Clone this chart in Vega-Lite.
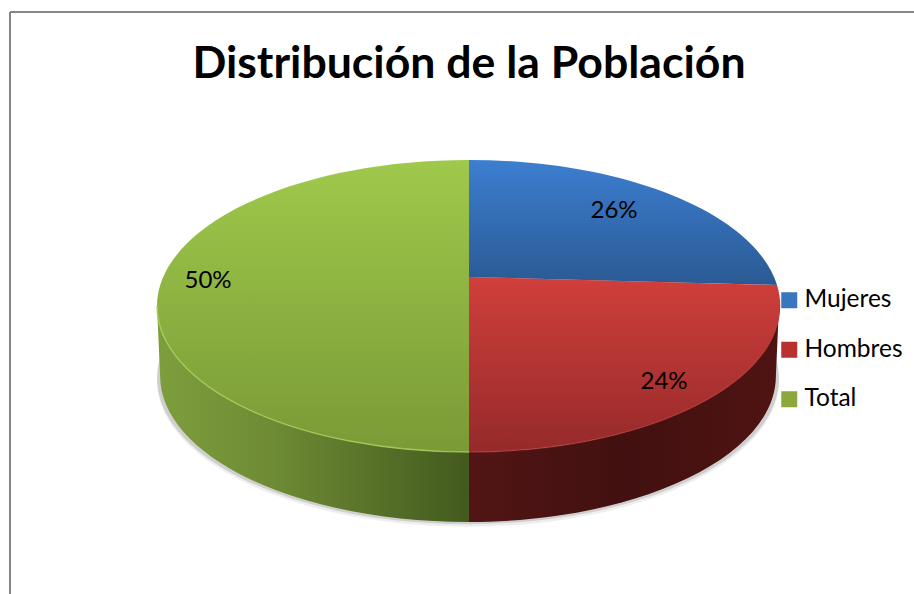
{
"$schema":"https://vega.github.io/schema/vega-lite/v6.json",
"width":904,"height":582,"autosize":"none",
"padding":{"left":10,"top":12,"right":0,"bottom":0},
"background":"white",
"config":{"view":{"stroke":null}},
"title":{"text":"Distribución de la Población","font":"Lato","fontSize":44.6,"fontWeight":"bold","color":"black","anchor":"middle","baseline":"alphabetic","offset":0,"dx":7,"dy":112},
"data":{"values":[{"part":"Mujeres","share":0.26},{"part":"Hombres","share":0.24},{"part":"Total","share":0.5}]},
"layer":[
{"mark":{"type":"rule","color":"#868686","strokeWidth":2},"encoding":{"x":{"datum":10,"type":"quantitative","scale":{"domain":[10,914]},"axis":null}}},
{"mark":{"type":"rule","color":"#868686","strokeWidth":2},"encoding":{"x":{"datum":10,"type":"quantitative","scale":{"domain":[10,914]},"axis":null},"x2":{"datum":914},"y":{"datum":12,"type":"quantitative","scale":{"domain":[12,594],"reverse":true},"axis":null}}},
{"encoding":{"x":{"datum":468,"type":"quantitative","scale":{"domain":[10,914]},"axis":null},"y":{"datum":306,"type":"quantitative","scale":{"domain":[12,594],"reverse":true},"axis":null}},
"layer":[
{"mark":{"type":"point","filled":true,"opacity":1,"size":100,"shape":"square"},
 "encoding":{"fill":{"field":"part","type":"nominal","sort":["Mujeres","Hombres","Total"],
   "scale":{"domain":["Mujeres","Hombres","Total"],"range":["#3a76bd","#b8312f","#8aa83e"]},
   "legend":{"title":null,"orient":"none","legendX":767,"legendY":276,"symbolType":"square","symbolSize":256,"labelFont":"Lato","labelFontSize":24.5,"labelColor":"black","labelLimit":200,"rowPadding":24.5,"labelOffset":3,"symbolStrokeWidth":0}}}},
{"transform":[{"filter":"datum.part==='Total'"}],"mark":{"type":"point","filled":true,"fill":"#777777","opacity":0.12,"size":386884,"shape":"M-1 0.24 A1 0.4695 0 0 1 1 0.24 A1 0.4695 0 0 1 -1 0.24 Z"}},
{"transform":[{"filter":"datum.part==='Total'"}],"mark":{"type":"point","filled":true,"fill":"#555555","opacity":0.2,"size":386884,"shape":"M-1 0.232 A1 0.4695 0 0 1 1 0.232 A1 0.4695 0 0 1 -1 0.232 Z"}},
{"transform":[{"filter":"datum.part==='Total'"}],"mark":{"type":"point","filled":true,"opacity":1,"size":386884,"shape":"M-1 0 L-0.99 0.225 A0.99 0.4695 0 0 0 0.0032 0.6945 L0.0032 0.4695 A1 0.4695 0 0 1 -1 0 Z",
 "fill":{"gradient":"linear","x1":0,"y1":0,"x2":1,"y2":0,"stops":[{"offset":0,"color":"#7e9e3d"},{"offset":0.35,"color":"#6f8c35"},{"offset":1,"color":"#435a1d"}]}}},
{"transform":[{"filter":"datum.part==='Hombres'"}],"mark":{"type":"point","filled":true,"opacity":1,"size":386884,"shape":"M1 0 L0.99 0.225 A0.99 0.4695 0 0 1 0.0032 0.6945 L0.0032 0.4695 A1 0.4695 0 0 0 1 0 Z",
 "fill":{"gradient":"linear","x1":0,"y1":0,"x2":1,"y2":0,"stops":[{"offset":0,"color":"#521515"},{"offset":0.5,"color":"#421010"},{"offset":1,"color":"#4f1412"}]}}},
{"transform":[{"filter":"datum.part==='Total'"}],"mark":{"type":"point","filled":true,"opacity":1,"size":386884,"shape":"M0.0032 -0.4695 L0.0032 0.4695 A1 0.4695 0 0 1 -1 0 A1 0.4695 0 0 1 0.0032 -0.4695 Z",
 "fill":{"gradient":"linear","x1":0,"y1":0,"x2":0,"y2":1,"stops":[{"offset":0,"color":"#9fc94b"},{"offset":1,"color":"#7a9a36"}]}}},
{"transform":[{"filter":"datum.part==='Mujeres'"}],"mark":{"type":"point","filled":true,"opacity":1,"size":386884,"shape":"M0.0032 -0.0932 L0.0032 -0.4695 A1 0.4695 0 0 1 0.9936 -0.0675 Z",
 "fill":{"gradient":"linear","x1":0,"y1":0,"x2":0,"y2":1,"stops":[{"offset":0,"color":"#3c7ed0"},{"offset":1,"color":"#2a5a94"}]}}},
{"transform":[{"filter":"datum.part==='Hombres'"}],"mark":{"type":"point","filled":true,"opacity":1,"size":386884,"shape":"M0.0032 -0.0932 L0.9936 -0.0675 A1 0.4695 0 0 1 0.0032 0.4695 Z",
 "fill":{"gradient":"linear","x1":0,"y1":0,"x2":0,"y2":1,"stops":[{"offset":0,"color":"#d03f3b"},{"offset":1,"color":"#952a2a"}]}}},
{"transform":[{"filter":"datum.part==='Total'"}],"mark":{"type":"point","filled":false,"opacity":1,"size":386884,"strokeWidth":1.5,"stroke":"#a9cf5e","strokeOpacity":0.8,"shape":"M0.0032 0.4695 A1 0.4695 0 0 1 -1 0"}},
{"transform":[{"filter":"datum.part==='Hombres'"}],"mark":{"type":"point","filled":false,"opacity":1,"size":386884,"strokeWidth":1.5,"stroke":"#b8403c","strokeOpacity":0.6,"shape":"M0.0032 0.4695 A1 0.4695 0 0 0 1 0"}}
]},
{"transform":[{"filter":"datum.part==='Mujeres'"}],"mark":{"type":"text","font":"Lato","fontSize":24,"color":"black"},"encoding":{"x":{"datum":614,"type":"quantitative","scale":{"domain":[10,914]},"axis":null},"y":{"datum":211,"type":"quantitative","scale":{"domain":[12,594],"reverse":true},"axis":null},"text":{"field":"share","type":"quantitative","format":".0%"}}},
{"transform":[{"filter":"datum.part==='Hombres'"}],"mark":{"type":"text","font":"Lato","fontSize":24,"color":"black"},"encoding":{"x":{"datum":664,"type":"quantitative","scale":{"domain":[10,914]},"axis":null},"y":{"datum":382,"type":"quantitative","scale":{"domain":[12,594],"reverse":true},"axis":null},"text":{"field":"share","type":"quantitative","format":".0%"}}},
{"transform":[{"filter":"datum.part==='Total'"}],"mark":{"type":"text","font":"Lato","fontSize":24,"color":"black"},"encoding":{"x":{"datum":208,"type":"quantitative","scale":{"domain":[10,914]},"axis":null},"y":{"datum":281,"type":"quantitative","scale":{"domain":[12,594],"reverse":true},"axis":null},"text":{"field":"share","type":"quantitative","format":".0%"}}}
]
}
